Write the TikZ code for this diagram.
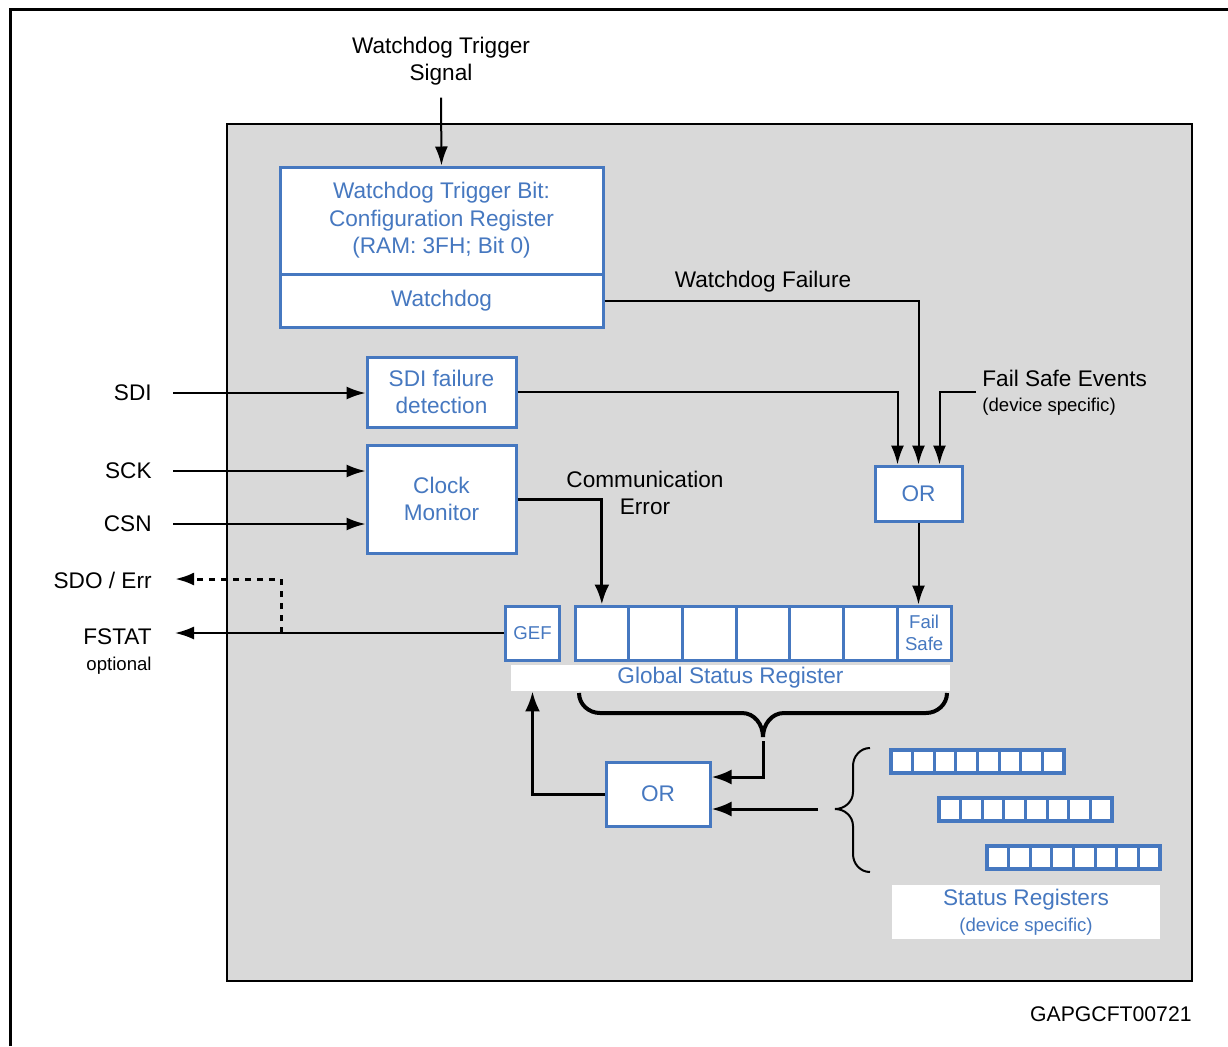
\documentclass[tikz,border=0pt]{standalone}
\usepackage{fontspec}
\setmainfont{Liberation Sans}
\usetikzlibrary{arrows.meta,calc}
\definecolor{regblue}{RGB}{70,120,192}
\definecolor{panelgray}{RGB}{217,217,217}
\newcommand{\mainsz}{\fontsize{11.3}{13.75}\selectfont}
\newcommand{\smallsz}{\fontsize{9.3}{11}\selectfont}
\tikzset{
  blk/.style={draw=regblue, line width=1.5pt, fill=white, text=regblue,
    align=center, inner sep=0pt, font=\mainsz},
  cell/.style={draw=regblue, line width=1.5pt, fill=white, text=regblue,
    minimum width=26.86pt, minimum height=27pt, inner sep=0pt,
    align=center, font=\smallsz},
  scell/.style={draw=regblue, line width=1.6pt, fill=white,
    minimum width=10.81pt, minimum height=11.5pt, inner sep=0pt},
  sig/.style={-{Latex[length=9.5pt,width=6.5pt]}, line width=1pt},
  thicksig/.style={-{Latex[length=10pt,width=7.5pt]}, line width=1.5pt},
  lbl/.style={font=\mainsz, align=center, inner sep=0pt},
  smalllbl/.style={font=\smallsz, align=center, inner sep=0pt}
}
\begin{document}
\begin{tikzpicture}[x=0.5pt,y=-0.5pt]
\useasboundingbox (0,0) rectangle (1228,1046);
% frame and panel
\draw[line width=1.5pt] (10,1046) -- (10,9) -- (1228,9);
\draw[fill=panelgray, line width=1pt] (227,124) rectangle (1192,981);

% watchdog
\node[lbl] (trig) at (441,61) {Watchdog Trigger\\Signal};
\node[blk, minimum width=161.5pt, minimum height=53.5pt] (wdtrig) at (441.5,220.5)
  {Watchdog Trigger Bit:\\Configuration Register\\(RAM: 3FH; Bit 0)};
\node[blk, minimum width=161.5pt, minimum height=26.5pt] (wd) at (441.5,300.5) {Watchdog};
\draw[sig] (trig.south) ++(0,-6pt) -- (wdtrig.north);

% SDI and clock monitor
\node[blk, minimum width=74.5pt, minimum height=35pt] (sdibox) at (441.5,392) {SDI failure\\detection};
\node[blk, minimum width=74.5pt, minimum height=54pt] (clkmon) at (441.5,499) {Clock\\Monitor};
\node[lbl, anchor=east] (sdilbl) at (152,393) {SDI};
\node[lbl, anchor=east] (scklbl) at (152,471) {SCK};
\node[lbl, anchor=east] (csnlbl) at (152,524) {CSN};
\draw[sig] ([xshift=10.5pt]sdilbl.east) -- (sdilbl.east -| sdibox.west);
\draw[sig] ([xshift=10.5pt]scklbl.east) -- (scklbl.east -| clkmon.west);
\draw[sig] ([xshift=10.5pt]csnlbl.east) -- (csnlbl.east -| clkmon.west);

% fail safe OR
\node[blk, minimum width=43.5pt, minimum height=27.5pt] (orfs) at (918.5,493.5) {OR};
\node[lbl] at (763,282) {Watchdog Failure};
\draw[sig] (wd.east) -| (orfs.north);
\draw[sig] (sdibox.east) -| ([xshift=-10.5pt]orfs.north);
\coordinate (fsein) at (976,392);
\node[lbl, anchor=west] (fselbl) at (982,378) {Fail Safe Events};
\node[smalllbl, anchor=west] at (982,407) {(device specific)};
\draw[sig] (fsein) -| ([xshift=10.5pt]orfs.north);

% global status register
\node[cell] (gef) at (532.5,633) {GEF};
\foreach \i in {1,...,6}
  \node[cell] (c\i) at ({575+53.714*(\i-0.5)},633) {};
\node[cell] (c7) at ({575+53.714*6.5},633) {Fail\\Safe};
\node[fill=white, text=regblue, font=\mainsz, minimum width=219.5pt, minimum height=13pt,
  inner sep=0pt] (gsrlabel) at (730.5,678) {Global Status Register};
\node[lbl] at (645,493) {Communication\\Error};
\draw[thicksig] (clkmon.east) -| (c1.north);
\draw[sig] (orfs.south) -- (orfs.south |- c7.north);

% brace and summary OR
\draw[line width=2pt] (579,693) to[out=-90,in=180] (600,713) -- (742,713)
  to[out=0,in=90] (763,737) to[out=90,in=180] (784,713) -- (926,713)
  to[out=0,in=-90] (947,693);
\coordinate (bracetip) at (763,741);
\node[blk, minimum width=52pt, minimum height=32pt] (or2) at (658,794) {OR};
\draw[thicksig] (bracetip) |- ([yshift=8.5pt]or2.east);
\coordinate (sregin) at (818,809);
\draw[thicksig] (sregin) -- (sregin -| or2.east);
\draw[thicksig] (or2.west) -| (gef.south |- gsrlabel.south);

% status registers
\draw[line width=1pt] (870,748) to[out=180,in=90] (853,766) -- (853,792)
  to[out=-90,in=0] (835,809) to[out=0,in=90] (853,826) -- (853,854)
  to[out=-90,in=180] (870,872);
\foreach \r/\x/\y in {1/891/761.5, 2/939/809.5, 3/987/857.5}
  \foreach \k in {1,...,8}
    \node[scell] (sr\r-\k) at ({\x+21.625*(\k-0.5)},\y) {};
\node[fill=white, text=regblue, minimum width=134pt, minimum height=27pt, inner sep=0pt,
  align=center] (sreglabel) at (1026,912)
  {{\mainsz Status Registers}\\[1pt]{\smallsz (device specific)}};

% outputs
\node[lbl, anchor=east] (sdolbl) at (152,580) {SDO / Err};
\node[lbl, anchor=east] (fstatlbl) at (152,637) {FSTAT};
\node[smalllbl, anchor=east] at (152,666) {optional};
\coordinate (fstatend) at (175,633);
\coordinate (sdoend) at (175,579);
\coordinate (sdotap) at (281,633);
\draw[sig] (gef.west) -- (fstatend);
\draw[sig, line width=1.5pt, dash pattern=on 3pt off 3pt] (sdotap) |- (sdoend);

\node[lbl, anchor=east, font=\fontsize{10.6}{13}\selectfont] at (1192,1014) {GAPGCFT00721};
\end{tikzpicture}
\end{document}
